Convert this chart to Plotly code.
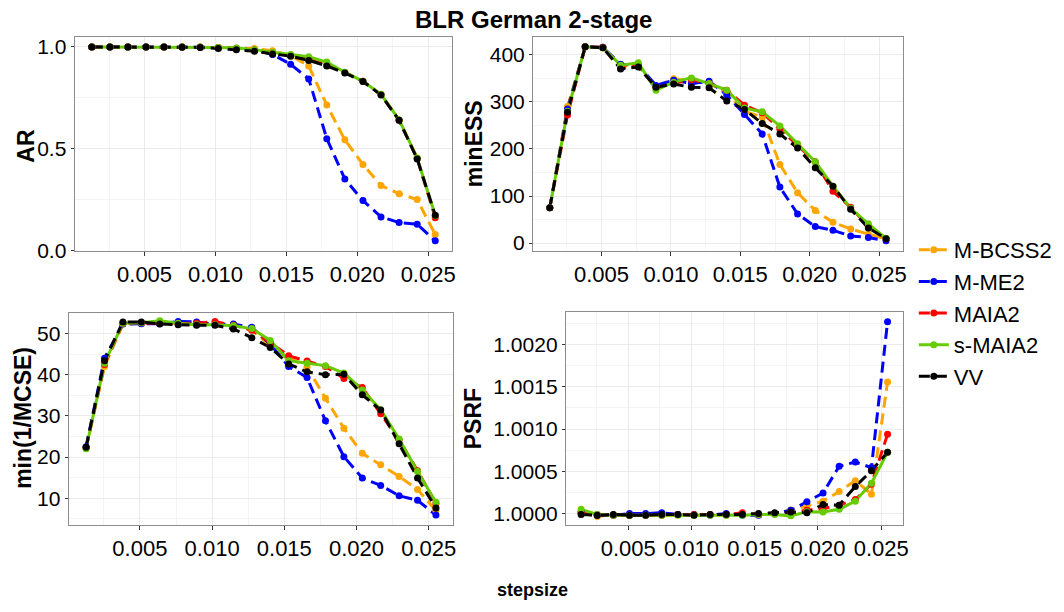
import plotly.graph_objects as go

# Step sizes shared by all four diagnostics
stepsize = [0.001275, 0.00255, 0.003825, 0.0051, 0.006375, 0.00765, 0.008925, 0.0102,
            0.011475, 0.01275, 0.014025, 0.0153, 0.016575, 0.01785, 0.019125, 0.0204,
            0.021675, 0.02295, 0.024225, 0.0255]

methods = ["M-BCSS2", "M-ME2", "MAIA2", "s-MAIA2", "VV"]
colors = {"M-BCSS2": "#FFA500", "M-ME2": "#0000FF", "MAIA2": "#FF0000",
          "s-MAIA2": "#66CC00", "VV": "#000000"}
dashes = {"M-BCSS2": "11px,6px", "M-ME2": "11px,6px", "MAIA2": "11px,6px",
          "s-MAIA2": "solid", "VV": "11px,6px"}

# Acceptance rate
ar_bcss2 = [1.0, 1.0, 1.0, 1.0, 1.0, 1.0, 0.999, 0.997, 0.995, 0.992, 0.982, 0.958, 0.907,
            0.714, 0.543, 0.422, 0.318, 0.278, 0.249, 0.077]
ar_me2 = [1.0, 1.0, 1.0, 1.0, 1.0, 1.0, 0.999, 0.996, 0.992, 0.984, 0.963, 0.915, 0.843,
          0.549, 0.350, 0.244, 0.164, 0.136, 0.128, 0.046]
ar_maia2 = [1.0, 1.0, 1.0, 1.0, 1.0, 1.0, 1.0, 0.997, 0.993, 0.985, 0.970, 0.958, 0.940,
            0.910, 0.874, 0.832, 0.766, 0.640, 0.452, 0.160]
ar_smaia2 = [1.0, 1.0, 1.0, 1.0, 1.0, 1.0, 1.0, 0.998, 0.995, 0.987, 0.974, 0.963, 0.952,
             0.926, 0.876, 0.831, 0.767, 0.642, 0.454, 0.170]
ar_vv = [1.0, 1.0, 1.0, 1.0, 1.0, 0.999, 0.998, 0.992, 0.987, 0.979, 0.966, 0.955, 0.934,
         0.907, 0.872, 0.830, 0.764, 0.639, 0.449, 0.172]

# Minimum effective sample size
ess_bcss2 = [75, 290, 417, 415, 375, 378, 333, 349, 345, 340, 318, 280, 268, 167, 107, 69,
             44, 30, 19, 9]
ess_me2 = [75, 285, 417, 416, 380, 378, 335, 346, 339, 344, 315, 273, 232, 119, 62, 35,
           27, 15, 12, 5]
ess_maia2 = [75, 272, 417, 416, 372, 376, 330, 340, 347, 339, 325, 293, 277, 242, 208, 173,
             110, 76, 36, 9]
ess_smaia2 = [75, 280, 417, 415, 378, 383, 325, 342, 351, 339, 325, 287, 279, 249, 211, 173,
              121, 74, 41, 10]
ess_vv = [75, 278, 417, 415, 370, 374, 331, 338, 331, 330, 302, 284, 254, 232, 202, 160,
          121, 72, 32, 9]

# Minimum of 1/MCSE
mcse_bcss2 = [22.3, 42.0, 52.3, 52.5, 52.7, 52.4, 52.3, 52.5, 52.2, 50.9, 47.0, 44.2, 41.8,
              34.3, 27.0, 20.9, 18.1, 15.3, 12.1, 7.0]
mcse_me2 = [22.5, 44.0, 52.3, 52.4, 52.4, 52.9, 52.8, 52.2, 52.3, 51.5, 47.4, 42.0, 39.3,
            28.8, 20.1, 14.9, 13.1, 10.6, 9.5, 5.9]
mcse_maia2 = [22.2, 42.5, 52.5, 52.6, 52.5, 52.4, 52.5, 52.9, 52.0, 50.8, 47.8, 44.6, 43.3,
              42.0, 39.1, 36.9, 30.5, 24.2, 16.7, 8.7]
mcse_smaia2 = [22.0, 42.8, 52.5, 52.6, 53.1, 52.5, 52.1, 52.1, 51.9, 51.2, 48.3, 43.4, 42.8,
               42.2, 40.4, 36.3, 31.5, 24.4, 16.5, 9.0]
mcse_vv = [22.4, 43.4, 52.8, 52.8, 52.3, 52.1, 52.0, 52.0, 51.1, 49.0, 46.6, 42.6, 40.7,
           40.0, 40.1, 35.1, 31.4, 23.2, 14.9, 7.6]

# Potential scale reduction factor
psrf_bcss2 = [1.00001, 0.999965, 0.99999, 0.99998, 0.99999, 0.99998, 0.99999, 0.99998,
              0.99999, 0.99998, 0.99999, 0.99999, 1.0, 1.000042, 1.00009, 1.000147,
              1.00026, 1.00039, 1.00023, 1.001556]
psrf_me2 = [1.00002, 0.99998, 0.99998, 1.0, 1.0, 1.00001, 0.99999, 0.99999, 0.99998,
            1.0, 0.99998, 0.99998, 1.0, 1.000039, 1.000139, 1.000243, 1.00056, 1.00061,
            1.000544, 1.00227]
psrf_maia2 = [1.00001, 0.99999, 0.99998, 0.99998, 0.99998, 0.99998, 0.99999, 0.99999,
              0.99999, 0.99999, 1.00001, 0.99999, 1.0, 1.00001, 1.00004, 1.00006, 1.0001,
              1.000166, 1.000347, 1.000938]
psrf_smaia2 = [1.00005, 0.99999, 0.99998, 0.99998, 0.99998, 0.99998, 0.99998, 0.99998,
               0.99998, 0.99998, 0.99998, 0.99999, 0.99999, 0.999973, 1.000023, 1.00002,
               1.00005, 1.000147, 1.00036, 1.000726]
psrf_vv = [0.99999, 0.99998, 0.99999, 0.99998, 0.99998, 0.99999, 0.99999, 0.99998,
           0.99999, 0.99999, 0.99999, 1.0, 1.00001, 1.00002, 1.00001, 1.000108, 1.0001,
           1.00032, 1.000506, 1.000726]

panels = [
    ("x", "y", {"M-BCSS2": ar_bcss2, "M-ME2": ar_me2, "MAIA2": ar_maia2,
                "s-MAIA2": ar_smaia2, "VV": ar_vv}),
    ("x2", "y2", {"M-BCSS2": ess_bcss2, "M-ME2": ess_me2, "MAIA2": ess_maia2,
                  "s-MAIA2": ess_smaia2, "VV": ess_vv}),
    ("x3", "y3", {"M-BCSS2": mcse_bcss2, "M-ME2": mcse_me2, "MAIA2": mcse_maia2,
                  "s-MAIA2": mcse_smaia2, "VV": mcse_vv}),
    ("x4", "y4", {"M-BCSS2": psrf_bcss2, "M-ME2": psrf_me2, "MAIA2": psrf_maia2,
                  "s-MAIA2": psrf_smaia2, "VV": psrf_vv}),
]

W, H = 1064, 612
FONT = "Liberation Sans, Arial, Helvetica, sans-serif"
LW = 3
MS = 7

fig = go.Figure()

# lines first, then points on top (like geom_line + geom_point)
for xa, ya, series in panels:
    for m in methods:
        fig.add_trace(go.Scatter(
            x=stepsize, y=series[m], xaxis=xa, yaxis=ya, mode="lines",
            line=dict(color=colors[m], width=LW, dash=dashes[m]),
            showlegend=False, hoverinfo="skip"))
    for m in methods:
        fig.add_trace(go.Scatter(
            x=stepsize, y=series[m], xaxis=xa, yaxis=ya, mode="markers",
            marker=dict(color=colors[m], size=MS),
            showlegend=False, name=m))

# legend entries
for m in methods:
    fig.add_trace(go.Scatter(
        x=[None], y=[None], mode="lines+markers", name=m, legendgroup=m,
        line=dict(color=colors[m], width=LW, dash=dashes[m]),
        marker=dict(color=colors[m], size=MS), showlegend=True))


def px_x(a, b):
    return [a / W, b / W]


def px_y(top, bottom):
    return [1 - bottom / H, 1 - top / H]


grid_major = "#EBEBEB"
grid_minor = "#F4F4F4"
border = "#8C8C8C"
x_range = [0.000064, 0.026711]
x_ticks = [0.005, 0.010, 0.015, 0.020, 0.025]


def xaxis(domain, anchor):
    return dict(domain=domain, anchor=anchor, range=x_range, tickvals=x_ticks,
                tickformat=".3f", showgrid=True, gridcolor=grid_major, gridwidth=1,
                minor=dict(dtick=0.0025, tick0=0, showgrid=True, gridcolor=grid_minor,
                           gridwidth=1),
                showline=True, mirror=True, linecolor=border, linewidth=1,
                ticks="outside", ticklen=4, tickcolor="#333333", tickwidth=1,
                zeroline=False, tickfont=dict(size=22, color="black", family=FONT))


def yaxis(domain, anchor, rng, dtick, fmt, minor_dtick, tick0=0):
    return dict(domain=domain, anchor=anchor, range=rng, dtick=dtick, tick0=tick0,
                tickformat=fmt, showgrid=True, gridcolor=grid_major, gridwidth=1,
                minor=dict(dtick=minor_dtick, tick0=tick0, showgrid=True,
                           gridcolor=grid_minor, gridwidth=1),
                showline=True, mirror=True, linecolor=border, linewidth=1,
                ticks="outside", ticklen=3, tickcolor="#333333", tickwidth=1,
                zeroline=False, tickfont=dict(size=21, color="black", family=FONT))


fig.update_layout(
    width=W, height=H, autosize=False,
    margin=dict(l=0, r=0, t=0, b=0),
    paper_bgcolor="white", plot_bgcolor="white",
    font=dict(family=FONT, color="black"),
    xaxis=xaxis(px_x(75, 455), "y"),
    yaxis=yaxis(px_y(36, 254), "x", [-0.002, 1.048], 0.5, ".1f", 0.25),
    xaxis2=xaxis(px_x(536, 908), "y2"),
    yaxis2=yaxis(px_y(36, 254), "x2", [-16, 437.4], 100, "d", 50),
    xaxis3=xaxis(px_x(69, 456), "y3"),
    yaxis3=yaxis(px_y(318, 534), "x3", [3.58, 54.92], 10, "d", 5),
    xaxis4=xaxis(px_x(569, 908), "y4"),
    yaxis4=yaxis(px_y(317, 534), "x4", [0.999869, 1.002382], 0.0005, ".4f",
                 0.00025, tick0=1.0),
    showlegend=True,
    legend=dict(x=919 / W, y=1 - 232 / H, xanchor="left", yanchor="top",
                font=dict(size=22, family=FONT, color="black"),
                tracegroupgap=0, bgcolor="rgba(0,0,0,0)", borderwidth=0),
)


def label(text, xpx, ypx, size, angle=0):
    fig.add_annotation(text=f"<b>{text}</b>", x=xpx / W, y=1 - ypx / H,
                       xref="paper", yref="paper", showarrow=False,
                       textangle=angle, xanchor="center", yanchor="middle",
                       font=dict(size=size, family=FONT, color="black"))


label("BLR German 2-stage", 537, 18, 24)
label("stepsize", 536, 601, 18)
label("AR", 26, 147, 23, -90)
label("minESS", 477, 145, 23, -90)
label("min(1/MCSE)", 23, 425, 23, -90)
label("PSRF", 476, 426, 23, -90)

fig.write_html("out.html")
